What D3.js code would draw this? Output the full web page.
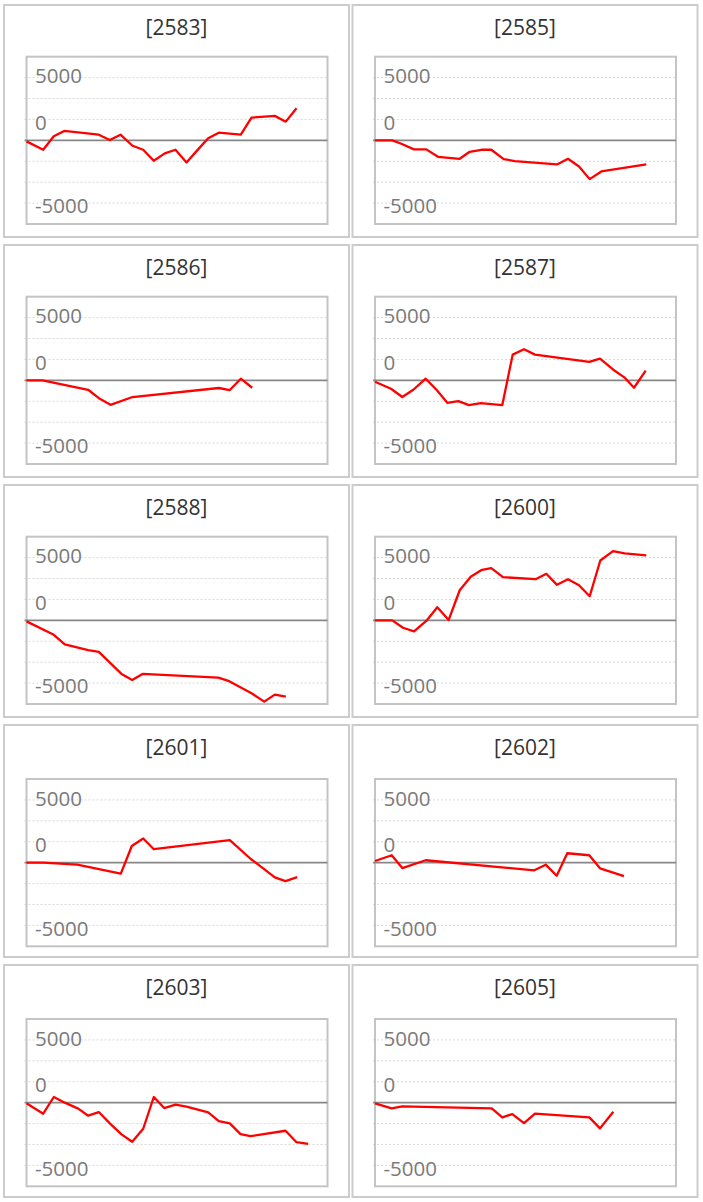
<!DOCTYPE html>
<html>
<head>
<meta charset="utf-8">
<script src="https://cdn.jsdelivr.net/npm/d3@7/dist/d3.min.js"></script>
<style>
  html, body { margin: 0; padding: 0; background: #fff; }
  svg { display: block; }
</style>
</head>
<body>
<div id="chart"></div>
<script>
// ---------------- data ----------------
const panelIds = ["2583", "2585", "2586", "2587", "2588", "2600", "2601", "2602", "2603", "2605"];

const x2583 = [0, 16.7, 27.3, 37.7, 72.3, 83.3, 94, 106, 116.7, 127.3, 138.3, 149, 160, 170.7, 181.7, 192.3, 214.3, 225, 248.3, 259.3, 270];
const y2583 = [-80, -750, 320, 750, 450, 30, 450, -430, -750, -1630, -1040, -750, -1760, -800, 160, 610, 450, 1810, 1950, 1490, 2560];

const x2585 = [0, 17.3, 26.3, 39, 51.3, 63, 84.7, 94.7, 106.3, 116.3, 128.7, 139.7, 182, 193, 204, 214.7, 226.3, 271.3];
const y2585 = [0, 0, -270, -720, -720, -1310, -1470, -910, -750, -750, -1490, -1650, -1920, -1470, -2080, -3090, -2480, -1920];

const x2586 = [0, 16, 61.7, 73.3, 84, 106, 192.3, 203.3, 214.3, 225.7];
const y2586 = [0, 0, -750, -1470, -1950, -1330, -610, -770, 130, -590];

const x2587 = [0, 16, 27.3, 38.3, 50.7, 61.7, 72.3, 83.3, 94, 105.7, 127.3, 137.7, 149, 160, 214.3, 225, 238.3, 249.3, 259, 270.7];
const y2587 = [-110, -670, -1330, -750, 130, -770, -1790, -1650, -1970, -1810, -1970, 2050, 2480, 2050, 1470, 1730, 850, 240, -590, 770];

const x2588 = [0, 27.3, 38.3, 61.7, 72.3, 95, 105.7, 116, 191.7, 202.7, 225, 237.7, 248.3, 259.3];
const y2588 = [-80, -1150, -1920, -2370, -2510, -4270, -4750, -4270, -4560, -4850, -5810, -6480, -5920, -6080];

const x2600 = [0, 17.3, 28, 39, 51.3, 62.3, 73.7, 84.7, 95.7, 107, 116.3, 128, 160.7, 171.3, 182, 193, 204, 214.7, 225.3, 238, 249.7, 271.3];
const y2600 = [0, 0, -590, -880, -50, 1040, 30, 2400, 3470, 4030, 4160, 3440, 3280, 3710, 2830, 3280, 2800, 1920, 4770, 5520, 5330, 5170];

const x2601 = [0, 16.7, 50.7, 94.3, 105.3, 116.7, 127.3, 203.3, 224.3, 236.7, 248.3, 259, 270.7];
const y2601 = [0, 0, -160, -880, 1330, 1920, 1070, 1790, 290, -450, -1170, -1470, -1150];

const x2602 = [0, 16.7, 27.3, 50.7, 159.3, 170.7, 181.7, 192.3, 214.3, 225, 249];
const y2602 = [130, 590, -430, 190, -610, -160, -1040, 750, 590, -450, -1070];

const x2603 = [0, 16.7, 27.3, 38.3, 51.7, 61.7, 72.3, 83.3, 95, 105.7, 116.7, 127.3, 137.7, 149, 160, 181.7, 192.3, 203.3, 214, 224, 259, 270, 281.7];
const y2603 = [-50, -880, 450, 0, -480, -1040, -750, -1650, -2530, -3120, -2080, 450, -430, -160, -320, -770, -1470, -1650, -2510, -2670, -2240, -3150, -3280];

const x2605 = [0, 16.7, 27.3, 116.7, 127.3, 137.3, 149, 160, 214.3, 225, 238.3];
const y2605 = [-50, -450, -290, -450, -1170, -910, -1630, -880, -1170, -2050, -720];

const seriesX = { "2583": x2583, "2585": x2585, "2586": x2586, "2587": x2587, "2588": x2588,
                  "2600": x2600, "2601": x2601, "2602": x2602, "2603": x2603, "2605": x2605 };
const seriesY = { "2583": y2583, "2585": y2585, "2586": y2586, "2587": y2587, "2588": y2588,
                  "2600": y2600, "2601": y2601, "2602": y2602, "2603": y2603, "2605": y2605 };

const xDomain = [0, 301];
const yDomain = [-20000 / 3, 20000 / 3];
const gridValues = [-5000, -10000 / 3, -5000 / 3, 5000 / 3, 10000 / 3, 5000];
const yTickLabels = ["5000", "0", "-5000"];
const yTickValues = [5000, 0, -5000];

// ---------------- layout (styles/positions) ----------------
const W = 703, H = 1202;
const COLS = 2;
const PANEL_W = 345, PANEL_H = 232;
const PANEL_X0 = 4, PANEL_DX = 348.5;
const PANEL_Y0 = 5, PANEL_DY = 240;
const BOX_OFF_X = 22.5, BOX_W = 301;
const BOX_OFF_Y = 51.7, BOX_H = 167.3;
const ROW_SHIFT = [0, 0, 0, 2.3, 2.3];
const LABEL_SHIFT = [5.7, -10.3, 10.3];
const FONT = "'Open Sans', 'Noto Sans', 'DejaVu Sans', sans-serif";

const svg = d3.select("#chart").append("svg")
  .attr("width", W).attr("height", H)
  .attr("viewBox", `0 0 ${W} ${H}`);

svg.append("rect").attr("width", W).attr("height", H).attr("fill", "#fff");

panelIds.forEach((id, i) => {
  const col = i % COLS, row = Math.floor(i / COLS);
  const px = PANEL_X0 + col * PANEL_DX;
  const py = PANEL_Y0 + row * PANEL_DY;
  const g = svg.append("g");

  g.append("rect")
    .attr("x", px).attr("y", py).attr("width", PANEL_W).attr("height", PANEL_H)
    .attr("fill", "#fff").attr("stroke", "#cccccc").attr("stroke-width", 2);

  g.append("text")
    .attr("x", px + PANEL_W / 2).attr("y", py + 30)
    .attr("text-anchor", "middle")
    .attr("font-family", FONT).attr("font-size", 21)
    .attr("fill", "#333")
    .text(`[${id}]`);

  const bx = px + BOX_OFF_X;
  const by = py + BOX_OFF_Y + ROW_SHIFT[row];

  const x = d3.scaleLinear().domain(xDomain).range([bx, bx + BOX_W]);
  const y = d3.scaleLinear().domain(yDomain).range([by + BOX_H, by]);

  // gridlines
  g.selectAll("line.grid").data(gridValues).join("line")
    .attr("class", "grid")
    .attr("x1", bx - 2).attr("x2", bx + BOX_W)
    .attr("y1", d => y(d)).attr("y2", d => y(d))
    .attr("stroke", "#d9d9d9").attr("stroke-width", 1)
    .attr("stroke-dasharray", "2,2");

  // box
  g.append("rect")
    .attr("x", bx).attr("y", by).attr("width", BOX_W).attr("height", BOX_H)
    .attr("fill", "none").attr("stroke", "#c4c4c4").attr("stroke-width", 2);

  // labels
  g.selectAll("text.ylab").data(yTickValues).join("text")
    .attr("class", "ylab")
    .attr("x", bx + 8.5)
    .attr("y", (d, k) => y(d) + LABEL_SHIFT[k])
    .attr("font-family", FONT).attr("font-size", 20.5)
    .attr("fill", "#7a7a7a")
    .text((d, k) => yTickLabels[k]);

  // zero baseline
  g.append("line")
    .attr("x1", bx - 2).attr("x2", bx + BOX_W)
    .attr("y1", y(0)).attr("y2", y(0))
    .attr("stroke", "#888").attr("stroke-width", 1.6);

  // series
  const xs = seriesX[id], ys = seriesY[id];
  const pts = xs.map((v, k) => [v, ys[k]]);
  g.append("path")
    .datum(pts)
    .attr("fill", "none")
    .attr("stroke", "#ff0000")
    .attr("stroke-width", 2.3)
    .attr("stroke-linejoin", "round")
    .attr("d", d3.line().x(d => x(d[0])).y(d => y(d[1])));
});
</script>
</body>
</html>
